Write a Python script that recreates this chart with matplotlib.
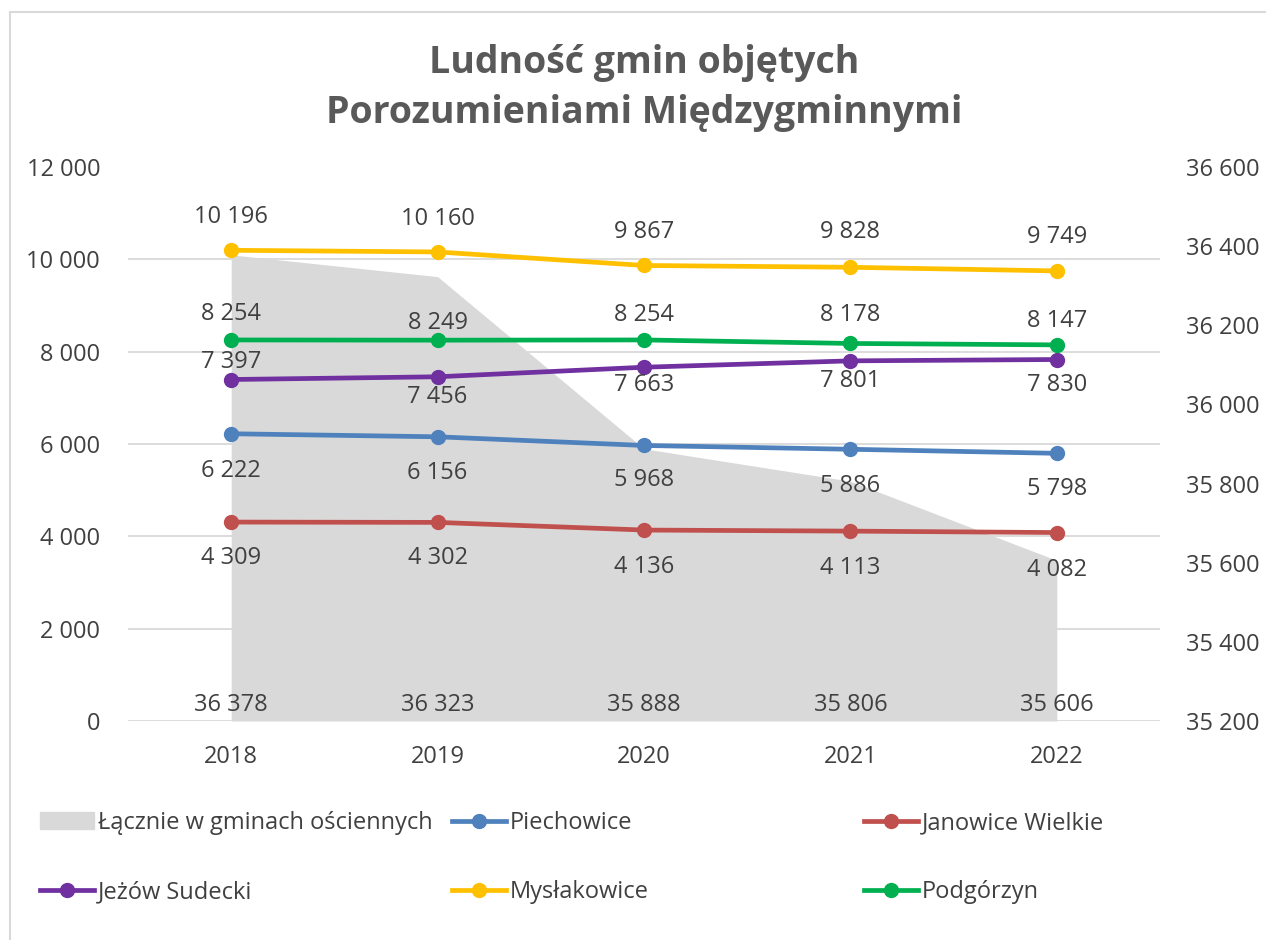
import matplotlib.pyplot as plt
from matplotlib.patches import Patch, Rectangle
from matplotlib.lines import Line2D

plt.rcParams['font.family'] = ['Open Sans', 'DejaVu Sans']

years = ['2018', '2019', '2020', '2021', '2022']
total = [36378, 36323, 35888, 35806, 35606]
piechowice = [6222, 6156, 5968, 5886, 5798]
janowice = [4309, 4302, 4136, 4113, 4082]
jezow = [7397, 7456, 7663, 7801, 7830]
myslakowice = [10196, 10160, 9867, 9828, 9749]
podgorzyn = [8254, 8249, 8254, 8178, 8147]

TXT = '#404040'
FS = 17


def fmt(v):
    return f'{v:,}'.replace(',', ' ')


fig = plt.figure(figsize=(12.66, 9.4), dpi=100)
ax = fig.add_axes([128 / 1266, 1 - 721 / 940, 1032 / 1266, 554 / 940])
x = list(range(len(years)))

# area on the secondary scale (drawn first, behind lines)
ax.fill_between(x, 35200, total, color='#d9d9d9', lw=0, zorder=1)
ax.set_ylim(35200, 36600)
ax.set_xlim(-0.5, 4.5)
ax.set_yticks([35200 + k * 1400 / 6 for k in range(1, 7)], minor=True)
ax.grid(which='minor', axis='y', color='#d9d9d9', lw=1.3, zorder=0)
ax.set_axisbelow(True)
for i, v in enumerate(total):
    ax.annotate(fmt(v), (i, 35200), xytext=(0, 16), textcoords='offset pixels',
                ha='center', va='center', fontsize=FS, color=TXT, zorder=3)

ax2 = ax.twinx()
ax.yaxis.tick_right()
ax.set_yticks(range(35200, 36601, 200))
ax.set_yticklabels([fmt(v) for v in range(35200, 36601, 200)])
ax2.yaxis.tick_left()
ax2.set_ylim(0, 12000)
ax2.set_yticks(range(0, 12001, 2000))
ax2.set_yticklabels([fmt(v) for v in range(0, 12001, 2000)])

series = [
    ('Piechowice', piechowice, '#4f81bd', [-37, -36, -35, -37, -36]),
    ('Janowice Wielkie', janowice, '#c0504d', [-36, -36, -37, -37, -37]),
    ('Jeżów Sudecki', jezow, '#7030a0', [18, -20, -18, -20, -25]),
    ('Mysłakowice', myslakowice, '#ffc000', [33, 33, 33, 35, 34]),
    ('Podgórzyn', podgorzyn, '#00b050', [26, 17, 25, 28, 24]),
]
for name, vals, col, offs in series:
    ax2.plot(x, vals, color=col, lw=3.4, marker='o', ms=10, zorder=4)
    for i, v in enumerate(vals):
        ax2.annotate(fmt(v), (i, v), xytext=(0, offs[i]), textcoords='offset pixels',
                     ha='center', va='center', fontsize=FS, color=TXT, zorder=5)

for a in (ax, ax2):
    for s in a.spines.values():
        s.set_visible(False)
    a.tick_params(axis='y', which='both', length=0, labelsize=FS, labelcolor=TXT)
ax2.tick_params(axis='y', pad=20)
ax.tick_params(axis='y', pad=19)
ax.set_xticks(x)
ax.set_xticklabels(years)
ax.tick_params(axis='x', length=0, labelsize=FS, labelcolor=TXT, pad=17)
ax.axhline(35200, color='#d9d9d9', lw=1.3, zorder=0)

fig.text(644 / 1266, 1 - 63 / 940, 'Ludność gmin objętych', ha='center', va='center',
         fontsize=27, fontweight='bold', color='#595959')
fig.text(644 / 1266, 1 - 113 / 940, 'Porozumieniami Międzygminnymi', ha='center', va='center',
         fontsize=27, fontweight='bold', color='#595959')

# legend, one entry at a time
entries = [
    (Patch(color='#d9d9d9'), 'Łącznie w gminach ościennych', 40, 823),
    (Line2D([], [], color='#4f81bd', lw=3.4, marker='o', ms=10), 'Piechowice', 452, 823),
    (Line2D([], [], color='#c0504d', lw=3.4, marker='o', ms=10), 'Janowice Wielkie', 864, 823),
    (Line2D([], [], color='#7030a0', lw=3.4, marker='o', ms=10), 'Jeżów Sudecki', 40, 892),
    (Line2D([], [], color='#ffc000', lw=3.4, marker='o', ms=10), 'Mysłakowice', 452, 892),
    (Line2D([], [], color='#00b050', lw=3.4, marker='o', ms=10), 'Podgórzyn', 864, 892),
]
for h, lab, px, py in entries:
    lg = fig.legend([h], [lab], loc='center left', bbox_to_anchor=(px / 1266, 1 - py / 940),
                    frameon=False, fontsize=FS, handlelength=2.3, handletextpad=0.15,
                    borderpad=0, borderaxespad=0, handleheight=0.7)
    for t in lg.get_texts():
        t.set_color(TXT)

fig.patches.append(Rectangle((10 / 1266, -0.1), 1.2, 1 - 12 / 940 + 0.1,
                             transform=fig.transFigure, fill=False,
                             edgecolor='#d9d9d9', lw=1.5))

fig.savefig('out.png', dpi=100, facecolor='white')
